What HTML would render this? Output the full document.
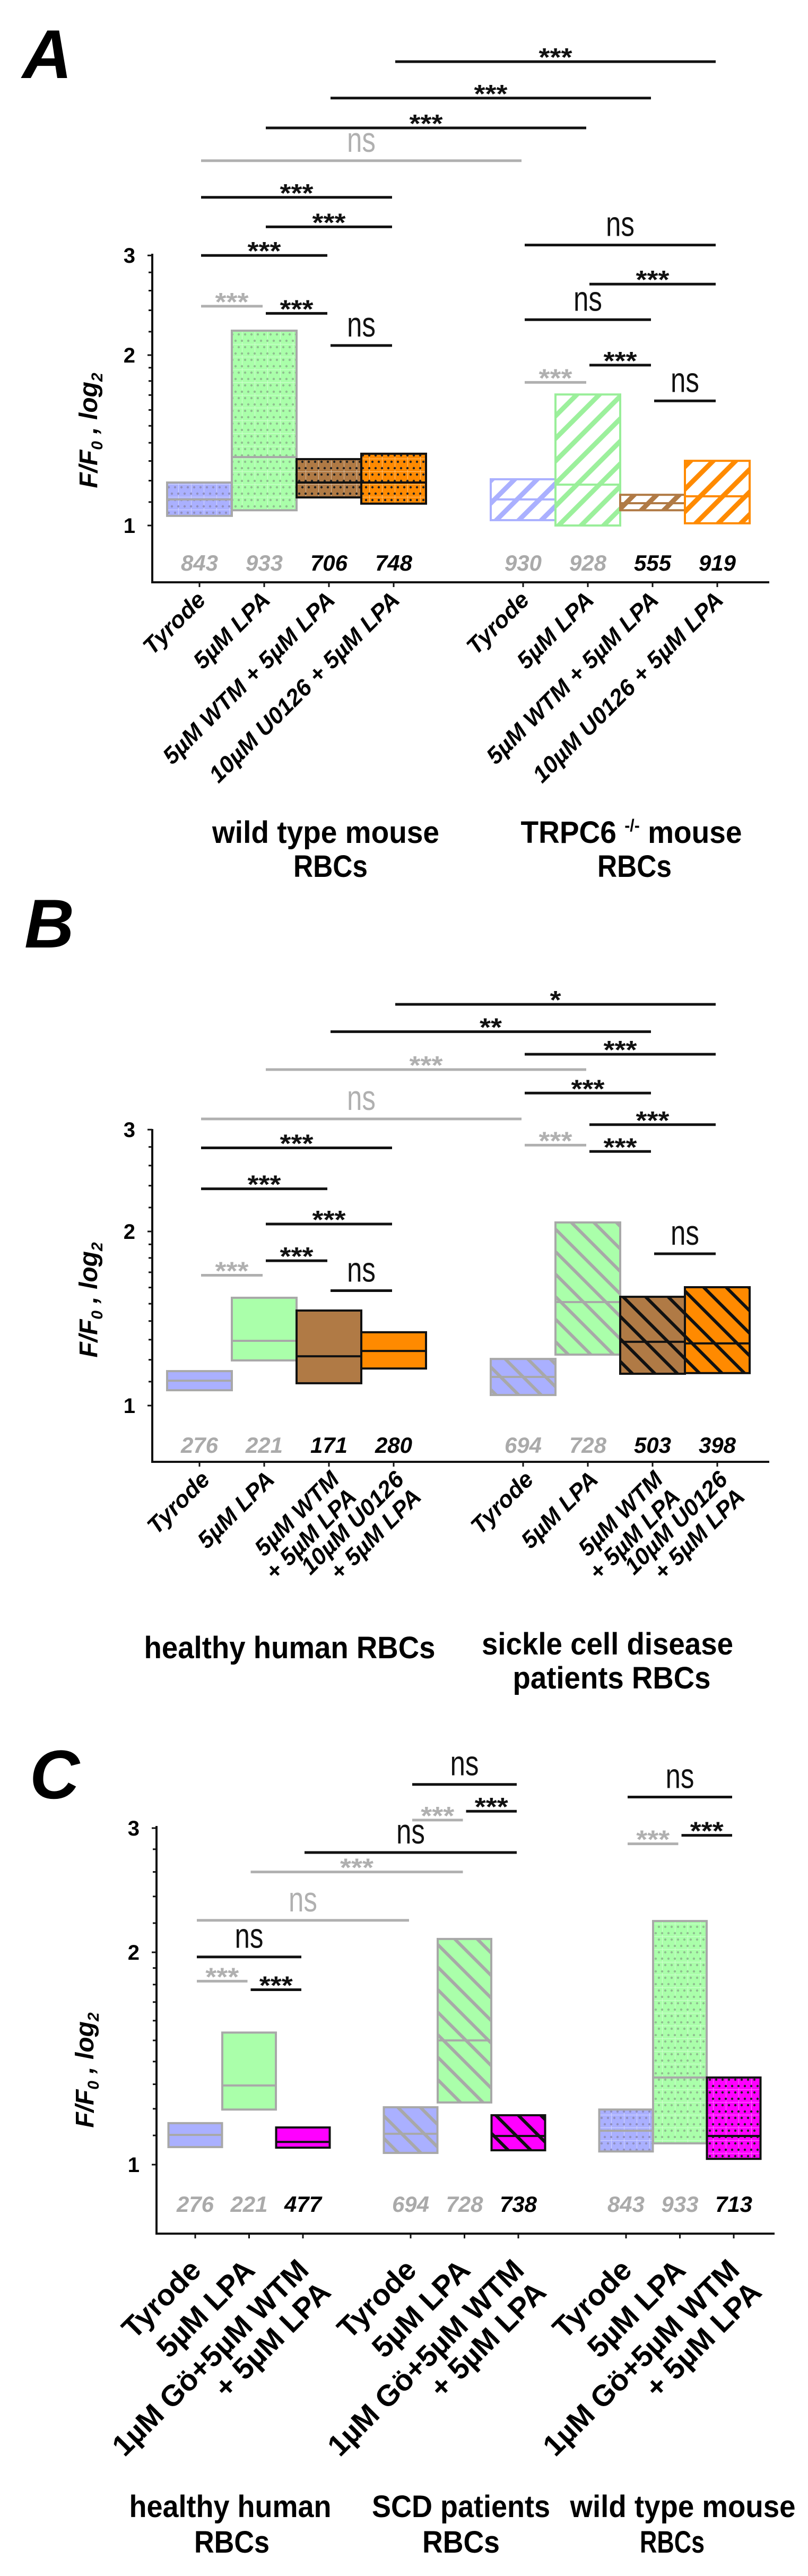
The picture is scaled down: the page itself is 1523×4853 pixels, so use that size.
<!DOCTYPE html>
<html><head><meta charset="utf-8">
<style>
html,body{margin:0;padding:0;background:#fff;}
svg{display:block;}
text{font-family:"Liberation Sans",Arial,sans-serif;}
</style></head>
<body>
<svg id="fig" xmlns="http://www.w3.org/2000/svg" width="1523" height="4853" viewBox="0 0 1523 4853">
<defs id="defs"></defs>
</svg>
<script>
// ---------- DATA ----------
// Panel A
const aCats = ['Tyrode','5µM LPA','5µM WTM + 5µM LPA','10µM U0126 + 5µM LPA','Tyrode','5µM LPA','5µM WTM + 5µM LPA','10µM U0126 + 5µM LPA'];
const aTop = [1.191,2.209,1.310,1.339,1.207,1.704,1.133,1.301];
const aMed = [1.112,1.321,1.191,1.191,1.112,1.181,1.095,1.126];
const aBot = [1.040,1.064,1.121,1.093,1.022,1.000,1.064,1.009];
const aN = ['843','933','706','748','930','928','555','919'];
const aSigFrom = [3,2,1,0,0,1,0,0,1,2,4,5,4,5,4,6];
const aSigTo   = [7,6,5,4,3,3,2,1,2,3,7,7,6,6,5,7];
const aSigLevel= [6.60,5.69,5.04,4.41,3.80,3.37,3.00,2.44,2.37,2.08,3.13,2.67,2.31,1.92,1.79,1.66];
const aSigLabel= ['***','***','***','ns','***','***','***','***','***','ns','ns','***','ns','***','***','ns'];
const aSigGrey = [0,0,0,1,0,0,0,1,0,0,0,0,0,0,1,0];
// Panel B
const bCats = [['Tyrode'],['5µM LPA'],['5µM WTM','+ 5µM LPA'],['10µM U0126','+ 5µM LPA'],['Tyrode'],['5µM LPA'],['5µM WTM','+ 5µM LPA'],['10µM U0126','+ 5µM LPA']];
const bTop = [1.147,1.536,1.460,1.339,1.204,2.073,1.542,1.602];
const bMed = [1.104,1.294,1.217,1.243,1.121,1.510,1.289,1.281];
const bBot = [1.063,1.197,1.093,1.159,1.043,1.225,1.135,1.138];
const bN = ['276','221','171','280','694','728','503','398'];
const bSigFrom = [3,2,4,1,4,0,5,4,0,5,0,1,0,1,2,6];
const bSigTo   = [7,6,7,5,6,4,7,5,3,6,2,3,1,2,3,7];
const bSigLevel= [4.94,4.43,4.05,3.81,3.47,3.13,3.06,2.82,2.79,2.75,2.37,2.06,1.68,1.78,1.58,1.83];
const bSigLabel= ['*','**','***','***','***','ns','***','***','***','***','***','***','***','***','ns','ns'];
const bSigGrey = [0,0,0,1,0,1,0,1,0,0,0,0,1,0,0,0];
// Panel C
const cCats = [['Tyrode'],['5µM LPA'],['1µM Gö+5µM WTM','+ 5µM LPA'],['Tyrode'],['5µM LPA'],['1µM Gö+5µM WTM','+ 5µM LPA'],['Tyrode'],['5µM LPA'],['1µM Gö+5µM WTM','+ 5µM LPA']];
const cTop = [1.145,1.539,1.129,1.206,2.089,1.175,1.197,2.215,1.329];
const cMed = [1.102,1.295,1.077,1.106,1.500,1.098,1.117,1.329,1.098];
const cBot = [1.059,1.197,1.057,1.039,1.225,1.048,1.044,1.072,1.019];
const cN = ['276','221','477','694','728','738','843','933','713'];
const cSigFrom = [3,4,3,6,7,6,2,1,0,0,0,1];
const cSigTo   = [5,5,4,8,8,7,5,4,3,2,1,2];
const cSigLevel= [3.46,3.17,3.08,3.32,2.93,2.85,2.77,2.60,2.22,1.97,1.82,1.77];
const cSigLabel= ['ns','***','***','ns','***','***','ns','***','ns','ns','***','***'];
const cSigGrey = [0,0,1,0,0,1,0,1,1,0,1,0];
const yTickVals = [1,2,3];
const yMinorVals = [1.1,1.2,1.3,1.4,1.5,1.6,1.7,1.8,1.9,2.2,2.4,2.6,2.8];

// ---------- STYLE ----------
const BLUE='#aab0ff', GREEN='#aaffaa', BROWN='#b07a45', ORANGE='#ff8a00', MAG='#ff00ff', GREY='#a8a8a8';
const svg=document.getElementById('fig');
const defs=document.getElementById('defs');
const NS='http://www.w3.org/2000/svg';
function mk(tag,parent){const e=document.createElementNS(NS,tag);(parent||svg).appendChild(e);return e;}

function pattern(id,type,color,ink){
  const p=mk('pattern',defs);
  p.setAttribute('id',id);p.setAttribute('patternUnits','userSpaceOnUse');
  if(type==='dots'){
    p.setAttribute('width','24');p.setAttribute('height','24');
    const r=mk('rect',p);r.setAttribute('width','24');r.setAttribute('height','24');r.setAttribute('fill',color);
    const g1=mk('path',p);g1.setAttribute('d','M0 0H24M0 0V24');g1.setAttribute('stroke','#fff');g1.setAttribute('stroke-opacity','0.45');g1.setAttribute('stroke-width','2');
    [[6,6],[18,6],[12,18],[0,18],[24,18]].forEach(d=>{const c=mk('circle',p);c.setAttribute('cx',d[0]);c.setAttribute('cy',d[1]);c.setAttribute('r','2.2');c.setAttribute('fill',ink);});
  } else if(type==='fwd'){
    p.setAttribute('width','30');p.setAttribute('height','30');p.setAttribute('patternTransform','rotate(45)');
    const r=mk('rect',p);r.setAttribute('width','30');r.setAttribute('height','30');r.setAttribute('fill','#fff');
    const l=mk('rect',p);l.setAttribute('x','0');l.setAttribute('width','9');l.setAttribute('height','30');l.setAttribute('fill',color);
  } else if(type==='back'){
    p.setAttribute('width','30');p.setAttribute('height','30');p.setAttribute('patternTransform','rotate(-45)');
    const r=mk('rect',p);r.setAttribute('width','30');r.setAttribute('height','30');r.setAttribute('fill',color);
    const l=mk('rect',p);l.setAttribute('x','0');l.setAttribute('width','6');l.setAttribute('height','30');l.setAttribute('fill',ink);
  }
}
pattern('dBlue','dots',BLUE,'#9090c0');pattern('dGreen','dots',GREEN,'#90c090');
pattern('dBrown','dots',BROWN,'#222');pattern('dOrange','dots',ORANGE,'#222');pattern('dMag','dots',MAG,'#222');
pattern('fBlue','fwd',BLUE);pattern('fGreen','fwd','#9cf09c');pattern('fBrown','fwd',BROWN);pattern('fOrange','fwd',ORANGE);
pattern('kBlue','back',BLUE,GREY);pattern('kGreen','back',GREEN,GREY);pattern('kBrown','back',BROWN,'#111');pattern('kOrange','back',ORANGE,'#111');pattern('kMag','back',MAG,'#111');

const aStyle=[['url(#dBlue)',GREY],['url(#dGreen)',GREY],['url(#dBrown)','#111'],['url(#dOrange)','#111'],['url(#fBlue)',BLUE],['url(#fGreen)','#99ee99'],['url(#fBrown)',BROWN],['url(#fOrange)',ORANGE]];
const bStyle=[[BLUE,GREY],[GREEN,GREY],[BROWN,'#111'],[ORANGE,'#111'],['url(#kBlue)',GREY],['url(#kGreen)',GREY],['url(#kBrown)','#111'],['url(#kOrange)','#111']];
const cStyle=[[BLUE,GREY],[GREEN,GREY],[MAG,'#111'],['url(#kBlue)',GREY],['url(#kGreen)',GREY],['url(#kMag)','#111'],['url(#dBlue)',GREY],['url(#dGreen)',GREY],['url(#dMag)','#111']];

function txt(parent,x,y,s,size,opts){
  const t=mk('text',parent);t.setAttribute('x',x);t.setAttribute('y',y);t.setAttribute('font-size',size);
  t.setAttribute('font-weight',opts.w||'bold');if(opts.i)t.setAttribute('font-style','italic');
  t.setAttribute('text-anchor',opts.a||'middle');t.setAttribute('fill',opts.c||'#000');
  if(opts.len){t.setAttribute('textLength',opts.len);t.setAttribute('lengthAdjust','spacingAndGlyphs');}
  t.textContent=s;return t;
}

function panel(P){
  const g=mk('g');
  
  
  const yS=v=>P.y1-P.k*Math.log2(v);
  const xS=i=>P.x0+P.step*P.slots[i];
  const L=txt(g,P.letterX,P.letterY,P.letter,130,{i:1,a:'start'});
  
  
  const ax=mk('path',g);
  ax.setAttribute('d',`M${P.axisX} ${P.axisTop}V${P.axisBottom}H${P.axisRight}`);
  ax.setAttribute('fill','none');ax.setAttribute('stroke','#111');ax.setAttribute('stroke-width','4');
  
  
  yTickVals.forEach(v=>{
    const tk=mk('line',g);tk.setAttribute('x1',P.axisX-9);tk.setAttribute('x2',P.axisX);tk.setAttribute('y1',yS(v));tk.setAttribute('y2',yS(v));tk.setAttribute('stroke','#111');tk.setAttribute('stroke-width','3');
    
    
    const tl=txt(g,P.axisX-32,yS(v)+14,String(v),40,{a:'end'});
    
    
  });
  yMinorVals.forEach(v=>{
    const tk=mk('line',g);tk.setAttribute('x1',P.axisX-7);tk.setAttribute('x2',P.axisX);tk.setAttribute('y1',yS(v));tk.setAttribute('y2',yS(v));tk.setAttribute('stroke','#111');tk.setAttribute('stroke-width','3');
    
    
  });
  const yt=mk('text',g);
  yt.setAttribute('transform',`translate(${P.titleX},${P.titleY}) rotate(-90)`);
  yt.setAttribute('text-anchor','middle');yt.setAttribute('font-size','48');yt.setAttribute('font-weight','bold');yt.setAttribute('font-style','italic');
  yt.innerHTML='F/F<tspan font-size="30" dy="10">0</tspan><tspan dy="-10"> , log</tspan><tspan font-size="30" dy="10">2</tspan>';
  
  
  P.top.forEach((t,i)=>{
    const x=xS(i),w=P.boxW;
    const r=mk('rect',g);
    r.setAttribute('x',x-w/2);r.setAttribute('y',yS(t));r.setAttribute('width',w);r.setAttribute('height',yS(P.bot[i])-yS(t));
    r.setAttribute('fill',P.style[i][0]);r.setAttribute('stroke',P.style[i][1]);r.setAttribute('stroke-width','4');
    
    
    const m=mk('line',g);
    m.setAttribute('x1',x-w/2);m.setAttribute('x2',x+w/2);m.setAttribute('y1',yS(P.med[i]));m.setAttribute('y2',yS(P.med[i]));
    m.setAttribute('stroke',P.style[i][1]);m.setAttribute('stroke-width','4');
    
    
    const tk=mk('line',g);tk.setAttribute('x1',x);tk.setAttribute('x2',x);tk.setAttribute('y1',P.axisBottom);tk.setAttribute('y2',P.axisBottom+9);tk.setAttribute('stroke','#111');tk.setAttribute('stroke-width','3');
    
    
    const grey=(P.nBlack.indexOf(i)<0);
    const nt=txt(g,x,P.nY,P.n[i],42,{i:1,c:grey?'#aaaaaa':'#000'});
    
    
    const lines=Array.isArray(P.cats[i])?P.cats[i]:[P.cats[i]];
    const lg=mk('text',g);
    lg.setAttribute('transform',`translate(${x+P.lblDx},${P.axisBottom+P.lblDy}) rotate(-45)`);
    lg.setAttribute('text-anchor','end');lg.setAttribute('font-size',P.lblSize);lg.setAttribute('font-weight','bold');
    if(P.lblItalic)lg.setAttribute('font-style','italic');
    lines.forEach((s,j)=>{const ts=mk('tspan',lg);ts.setAttribute('x','0');ts.setAttribute('y',String(j*P.lblSize*1.05));ts.textContent=s;});
    
    
  });
  P.sigFrom.forEach((f,i)=>{
    const x1=xS(f),x2=xS(P.sigTo[i]),y=yS(P.sigLevel[i]);
    const col=P.sigGrey[i]?'#b0b0b0':'#111';
    const l=mk('line',g);l.setAttribute('x1',x1+3);l.setAttribute('x2',x2-3);l.setAttribute('y1',y);l.setAttribute('y2',y);
    l.setAttribute('stroke',col);l.setAttribute('stroke-width','5');
    
    
    const lab=P.sigLabel[i];
    let t;
    if(lab==='ns') t=txt(g,(x1+x2)/2,y-17,'ns',66,{w:'normal',c:col,len:54});
    else t=txt(g,(x1+x2)/2,y+8,lab,48,{c:col,len:lab.length*21});
    
    
  });
  P.groups.forEach(gr=>{
    const t=txt(g,gr[0],gr[1],gr[2],58,{len:gr[3]});
    if(gr[2].indexOf('-/-')>=0){
      t.textContent='';
      t.innerHTML='TRPC6 <tspan font-size="32" dy="-22">-/-</tspan><tspan dy="22"> mouse</tspan>';
    }
    
    
  });
  return g;
}

panel({name:'panel-a',letter:'A',letterX:42,letterY:147,y1:990,k:321,x0:376,step:122,slots:[0,1,2,3,5,6,7,8],boxW:122,
  axisX:287,axisTop:478,axisBottom:1097,axisRight:1450,titleX:183,titleY:811,nY:1075,nBlack:[2,3,6,7],
  top:aTop,med:aMed,bot:aBot,n:aN,cats:aCats,style:aStyle,lblDx:14,lblDy:36,lblSize:44,lblItalic:true,
  sigFrom:aSigFrom,sigTo:aSigTo,sigLevel:aSigLevel,sigLabel:aSigLabel,sigGrey:aSigGrey,
  groups:[[614,1588,'wild type mouse',428],[623,1652,'RBCs',140],[1190,1588,'TRPC6 -/- mouse',417],[1196,1652,'RBCs',140]]});

panel({name:'panel-b',letter:'B',letterX:46,letterY:1785,y1:2648,k:328,x0:376,step:122,slots:[0,1,2,3,5,6,7,8],boxW:122,
  axisX:287,axisTop:2127,axisBottom:2754,axisRight:1450,titleX:183,titleY:2449,nY:2737,nBlack:[2,3,6,7],
  top:bTop,med:bMed,bot:bBot,n:bN,cats:bCats,style:bStyle,lblDx:22,lblDy:36,lblSize:44,lblItalic:true,
  sigFrom:bSigFrom,sigTo:bSigTo,sigLevel:bSigLevel,sigLabel:bSigLabel,sigGrey:bSigGrey,
  groups:[[546,3124,'healthy human RBCs',549],[1145,3117,'sickle cell disease',474],[1153,3181,'patients RBCs',373]]});

panel({name:'panel-c',letter:'C',letterX:56,letterY:3388,y1:4078,k:400,x0:368,step:101.5,slots:[0,1,2,4,5,6,8,9,10],boxW:101,
  axisX:295,axisTop:3440,axisBottom:4208,axisRight:1460,titleX:176,titleY:3900,nY:4167,nBlack:[2,5,8],
  top:cTop,med:cMed,bot:cBot,n:cN,cats:cCats,style:cStyle,lblDx:14,lblDy:72,lblSize:56,lblItalic:false,
  sigFrom:cSigFrom,sigTo:cSigTo,sigLevel:cSigLevel,sigLabel:cSigLabel,sigGrey:cSigGrey,
  groups:[[434,4742,'healthy human',381],[437,4809,'RBCs',142],[869,4742,'SCD patients',336],[869,4809,'RBCs',146],[1287,4742,'wild type mouse',425],[1267,4809,'RBCs',122]]});
</script>
</body></html>
